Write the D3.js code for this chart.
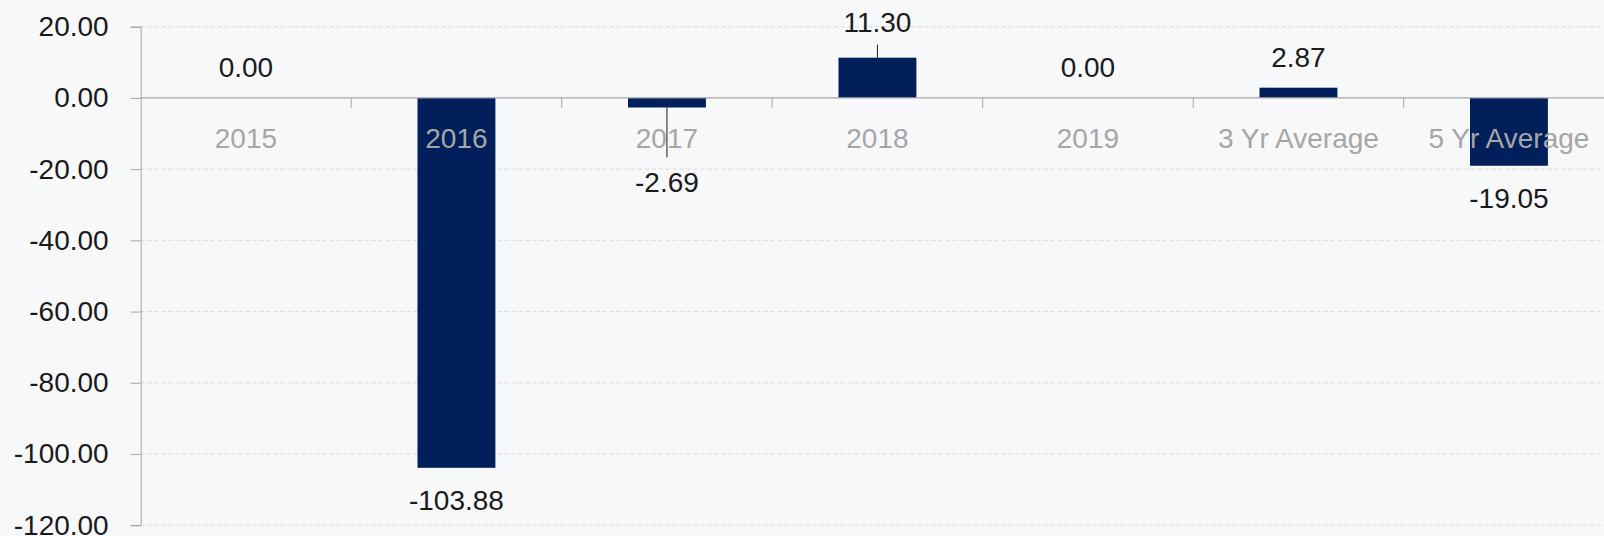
<!DOCTYPE html>
<html>
<head>
<meta charset="utf-8">
<script src="https://cdn.jsdelivr.net/npm/d3@7"></script>
<style>
  html, body { margin: 0; padding: 0; background: #f7f8fa; overflow: hidden; }
  svg text { font-family: "Liberation Sans", Arial, sans-serif; }
</style>
</head>
<body>
<div id="container"></div>
<script>
var categories = ["2015", "2016", "2017", "2018", "2019", "3 Yr Average", "5 Yr Average"];
var values = [0.00, -103.88, -2.69, 11.30, 0.00, 2.87, -19.05];
var yTicks = [20, 0, -20, -40, -60, -80, -100, -120];
// labels Excel moved off their default spot (px), with a leader line
var labelNudge = [0, 0, 43, -5, 0, 0, 0];

var width = 1604, height = 536;
var left = 140.7, plotRight = 1614.2;

// plain hyphen for negatives, like the original
var fmt = d3.formatLocale({decimal: ".", thousands: ",", grouping: [3], currency: ["", ""], minus: "-"}).format(".2f");

var svg = d3.select("#container").append("svg")
    .attr("width", width)
    .attr("height", height);

svg.append("rect")
    .attr("width", width).attr("height", height)
    .attr("fill", "#f7f8fa");

var x = d3.scaleBand()
    .domain(categories)
    .range([left, plotRight])
    .paddingInner(0.63)
    .paddingOuter(0.315);

var y = d3.scaleLinear()
    .domain([-120, 20])
    .range([525.2, 26.7]);

// dashed gridlines
svg.append("g").selectAll("line")
    .data(yTicks.filter(function(t){ return t != 0; }))
    .enter().append("line")
    .attr("x1", left).attr("x2", width)
    .attr("y1", function(d){ return y(d); })
    .attr("y2", function(d){ return y(d); })
    .attr("stroke", "#d9d9d9")
    .attr("stroke-width", 1)
    .attr("stroke-dasharray", "4,3");

// y axis
var yAxis = d3.axisLeft(y)
    .tickValues(yTicks)
    .tickSize(10)
    .tickPadding(22)
    .tickFormat(fmt);

var yg = svg.append("g")
    .attr("transform", "translate(" + left + ",0)")
    .call(yAxis);
yg.select(".domain").attr("stroke", "#a6a6a6");
yg.selectAll(".tick line").attr("stroke", "#a6a6a6");
yg.selectAll(".tick text")
    .attr("font-family", "Liberation Sans, Arial, sans-serif")
    .attr("font-size", 28)
    .attr("fill", "#1a1a1a");

// bars
svg.append("g").selectAll("rect")
    .data(values)
    .enter().append("rect")
    .attr("x", function(d, i){ return x(categories[i]); })
    .attr("width", x.bandwidth())
    .attr("y", function(d){ return y(Math.max(0, d)); })
    .attr("height", function(d){ return Math.abs(y(d) - y(0)); })
    .attr("fill", "#001f5b");

// x axis line at zero with ticks at category boundaries
var step = x.step();
var boundaries = d3.range(categories.length + 1).map(function(i){ return left + i * step; });

svg.append("line")
    .attr("x1", left).attr("x2", width)
    .attr("y1", y(0)).attr("y2", y(0))
    .attr("stroke", "#a6a6a6")
    .attr("stroke-width", 1.3);

svg.append("g").selectAll("line")
    .data(boundaries.slice(1))
    .enter().append("line")
    .attr("x1", function(d){ return d; })
    .attr("x2", function(d){ return d; })
    .attr("y1", y(0)).attr("y2", y(0) + 10)
    .attr("stroke", "#a6a6a6");

// category labels
svg.append("g").selectAll("text")
    .data(categories)
    .enter().append("text")
    .attr("x", function(d){ return x(d) + x.bandwidth() / 2; })
    .attr("y", y(0) + 50)
    .attr("text-anchor", "middle")
    .attr("font-size", 28)
    .attr("fill", "#a6a6a6")
    .text(function(d){ return d; });

// value labels
var labelY = function(d, i){
    var base = d < 0 ? y(d) + 42 : y(d) - 21;
    return base + labelNudge[i];
};

// leader lines for the moved labels
var moved = values.map(function(d, i){ return {v: d, i: i}; })
    .filter(function(o){ return labelNudge[o.i] != 0; });

svg.append("g").selectAll("line")
    .data(moved)
    .enter().append("line")
    .attr("x1", function(o){ return x(categories[o.i]) + x.bandwidth() / 2; })
    .attr("x2", function(o){ return x(categories[o.i]) + x.bandwidth() / 2; })
    .attr("y1", function(o){ return y(o.v); })
    .attr("y2", function(o){
        var ly = labelY(o.v, o.i);
        return o.v < 0 ? ly - 35 : ly + 13;
    })
    .attr("stroke", "#1a1a1a")
    .attr("stroke-width", 1);

svg.append("g").selectAll("text")
    .data(values)
    .enter().append("text")
    .attr("x", function(d, i){ return x(categories[i]) + x.bandwidth() / 2; })
    .attr("y", labelY)
    .attr("text-anchor", "middle")
    .attr("font-size", 28)
    .attr("fill", "#1a1a1a")
    .text(function(d){ return fmt(d); });
</script>
</body>
</html>
